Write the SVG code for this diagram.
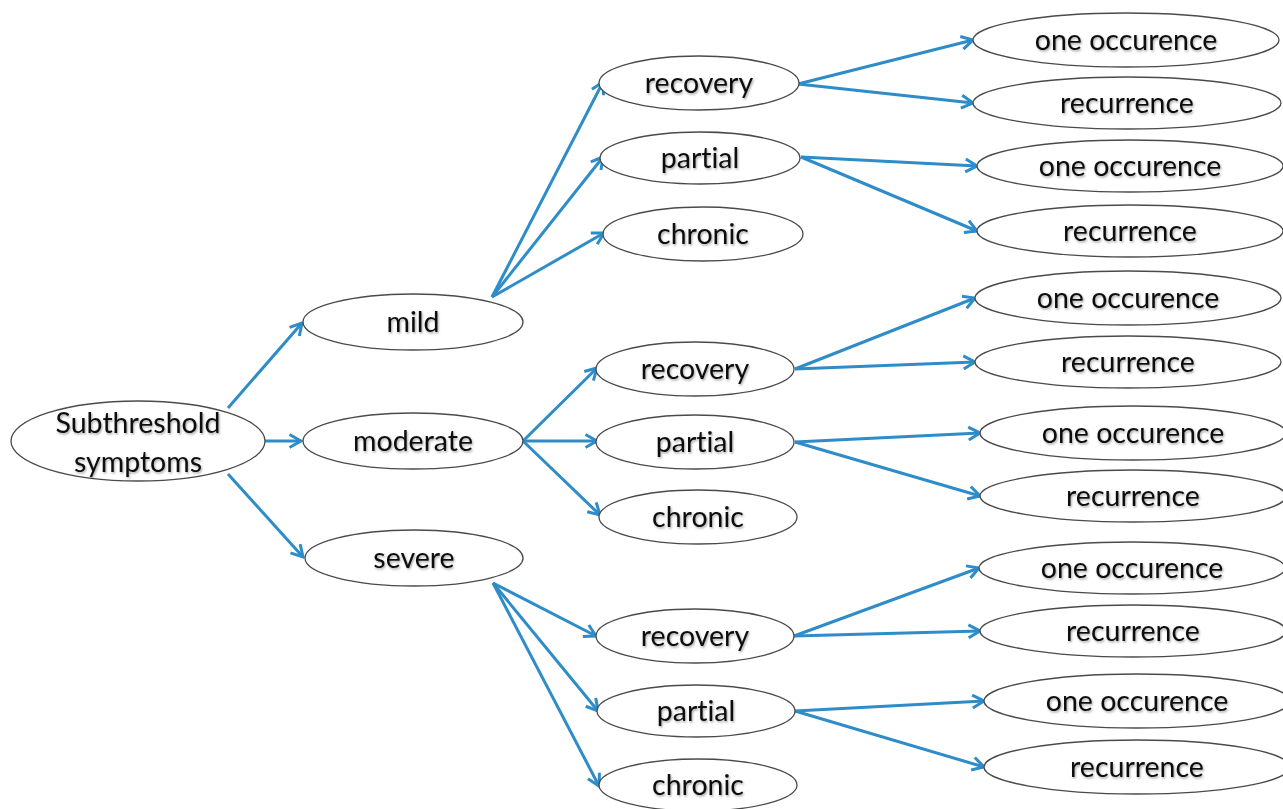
<svg xmlns="http://www.w3.org/2000/svg" width="1283" height="809" viewBox="0 0 1283 809">
<defs>
<style>
.n ellipse{fill:#fff;stroke:#4a4a4a;stroke-width:1.3}
.n text{font-family:Lato,"Open Sans","Liberation Sans",sans-serif;font-size:28.5px;fill:#111;text-anchor:middle;dominant-baseline:central;font-variant-ligatures:none;filter:url(#sh)}
#edges line{stroke:#2e8cc8;stroke-width:3;marker-end:url(#ah)}
</style>
<filter id="sh" x="-10%" y="-30%" width="120%" height="160%">
<feDropShadow dx="1" dy="1.5" stdDeviation="1" flood-color="#000" flood-opacity="0.35"/>
</filter>
<marker id="ah" viewBox="0 0 16 16" refX="14.5" refY="8" markerWidth="16" markerHeight="16" markerUnits="userSpaceOnUse" orient="auto">
<polyline points="3,1.5 14.5,8 3,14.5" fill="none" stroke="#2e8cc8" stroke-width="3" stroke-linejoin="miter"/>
</marker>
</defs>
<rect width="1283" height="809" fill="#fff"/>
<g id="edges">
<line x1="228" y1="408" x2="302" y2="323"/>
<line x1="265" y1="441" x2="301" y2="441"/>
<line x1="228" y1="474" x2="303" y2="557"/>
<line x1="492" y1="297" x2="603" y2="82"/>
<line x1="492" y1="297" x2="603" y2="157"/>
<line x1="492" y1="297" x2="604" y2="233"/>
<line x1="523" y1="441" x2="597" y2="368"/>
<line x1="523" y1="441" x2="597" y2="441"/>
<line x1="523" y1="441" x2="600" y2="515"/>
<line x1="493" y1="583" x2="596" y2="636"/>
<line x1="493" y1="583" x2="598" y2="711"/>
<line x1="493" y1="583" x2="599" y2="786"/>
<line x1="798" y1="84" x2="973" y2="40"/>
<line x1="798" y1="84" x2="973" y2="103"/>
<line x1="801" y1="157" x2="977" y2="166"/>
<line x1="801" y1="157" x2="977" y2="231"/>
<line x1="795" y1="369" x2="975" y2="298"/>
<line x1="795" y1="369" x2="975" y2="362"/>
<line x1="795" y1="442" x2="980" y2="433"/>
<line x1="795" y1="442" x2="980" y2="496"/>
<line x1="794" y1="636" x2="979" y2="568"/>
<line x1="794" y1="636" x2="980" y2="631"/>
<line x1="795" y1="711" x2="984" y2="701"/>
<line x1="795" y1="711" x2="984" y2="767"/>
</g>
<g id="n-sub" class="n"><ellipse cx="138" cy="441" rx="127" ry="40"/><text x="138" y="422">Subthreshold</text><text x="138" y="461">symptoms</text></g>
<g id="n-mild" class="n"><ellipse cx="413" cy="322" rx="110" ry="28"/><text x="413" y="321">mild</text></g>
<g id="n-moderate" class="n"><ellipse cx="413" cy="441" rx="110" ry="28"/><text x="413" y="440">moderate</text></g>
<g id="n-severe" class="n"><ellipse cx="414" cy="558" rx="109" ry="28"/><text x="414" y="557">severe</text></g>
<g id="n-mild-recovery" class="n"><ellipse cx="699" cy="83" rx="100" ry="27"/><text x="699" y="82">recovery</text></g>
<g id="n-mild-partial" class="n"><ellipse cx="700" cy="158" rx="100" ry="26"/><text x="700" y="157">partial</text></g>
<g id="n-mild-chronic" class="n"><ellipse cx="703" cy="234" rx="100" ry="27"/><text x="703" y="233">chronic</text></g>
<g id="n-mod-recovery" class="n"><ellipse cx="695" cy="369" rx="99" ry="27"/><text x="695" y="368">recovery</text></g>
<g id="n-mod-partial" class="n"><ellipse cx="695" cy="442" rx="99" ry="27"/><text x="695" y="441">partial</text></g>
<g id="n-mod-chronic" class="n"><ellipse cx="698" cy="517" rx="99" ry="27"/><text x="698" y="516">chronic</text></g>
<g id="n-sev-recovery" class="n"><ellipse cx="695" cy="636" rx="99" ry="27"/><text x="695" y="635">recovery</text></g>
<g id="n-sev-partial" class="n"><ellipse cx="696" cy="711" rx="99" ry="26"/><text x="696" y="710">partial</text></g>
<g id="n-sev-chronic" class="n"><ellipse cx="698" cy="785" rx="99" ry="26"/><text x="698" y="784">chronic</text></g>
<g id="n-l1" class="n"><ellipse cx="1126" cy="40" rx="153" ry="27"/><text x="1126" y="39">one occurence</text></g>
<g id="n-l2" class="n"><ellipse cx="1127" cy="103" rx="154" ry="26"/><text x="1127" y="102">recurrence</text></g>
<g id="n-l3" class="n"><ellipse cx="1130" cy="166" rx="153" ry="26"/><text x="1130" y="165">one occurence</text></g>
<g id="n-l4" class="n"><ellipse cx="1130" cy="231" rx="153" ry="26"/><text x="1130" y="230">recurrence</text></g>
<g id="n-l5" class="n"><ellipse cx="1128" cy="298" rx="153" ry="27"/><text x="1128" y="297">one occurence</text></g>
<g id="n-l6" class="n"><ellipse cx="1128" cy="362" rx="153" ry="26"/><text x="1128" y="361">recurrence</text></g>
<g id="n-l7" class="n"><ellipse cx="1133" cy="433" rx="153" ry="27"/><text x="1133" y="432">one occurence</text></g>
<g id="n-l8" class="n"><ellipse cx="1133" cy="496" rx="153" ry="26"/><text x="1133" y="495">recurrence</text></g>
<g id="n-l9" class="n"><ellipse cx="1132" cy="568" rx="153" ry="26"/><text x="1132" y="567">one occurence</text></g>
<g id="n-l10" class="n"><ellipse cx="1133" cy="631" rx="153" ry="26"/><text x="1133" y="630">recurrence</text></g>
<g id="n-l11" class="n"><ellipse cx="1137" cy="701" rx="153" ry="27"/><text x="1137" y="700">one occurence</text></g>
<g id="n-l12" class="n"><ellipse cx="1137" cy="767" rx="153" ry="27"/><text x="1137" y="766">recurrence</text></g>
</svg>
